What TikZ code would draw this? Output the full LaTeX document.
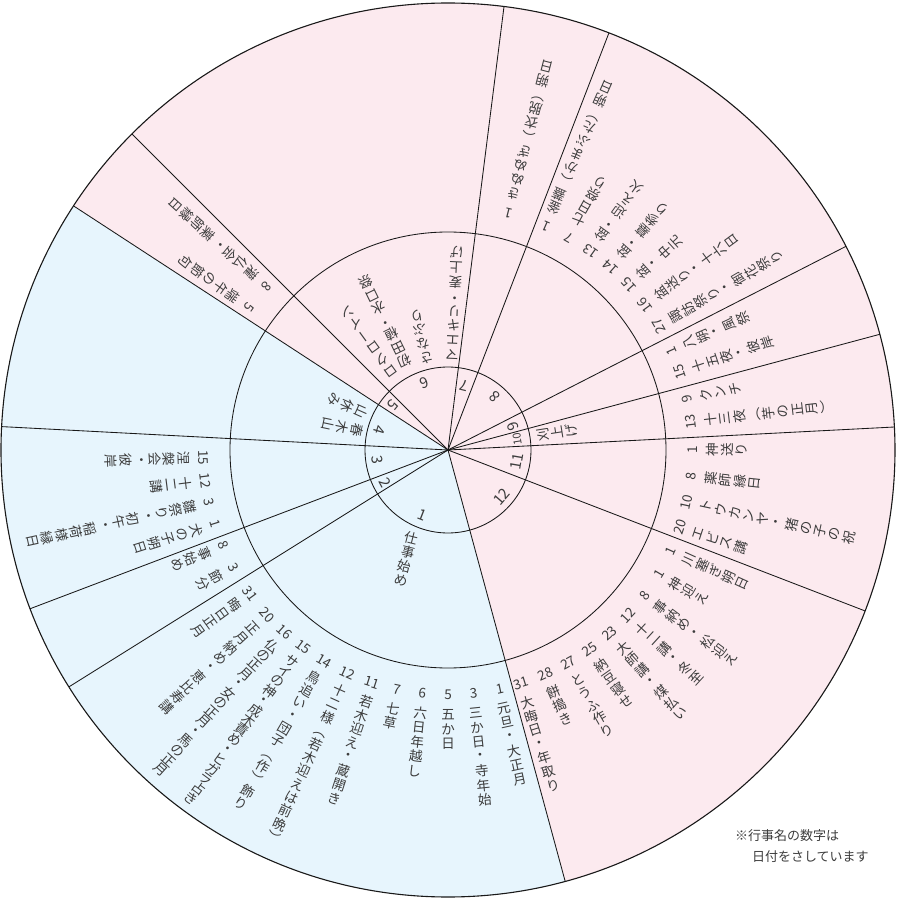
\documentclass[tikz,border=0pt]{standalone}
\usepackage{fontspec}
\usepackage{graphicx}
\newfontfamily\jp{Noto Sans CJK JP}
\definecolor{pinkbg}{RGB}{252,234,239}
\definecolor{bluebg}{RGB}{231,245,253}
\definecolor{ink}{RGB}{60,60,60}
\newdimen\vp \vp=14.6pt
\newdimen\vw \vw=16pt
\newcounter{nc}
\makeatletter
\def\vt@end{\vt@end}
\def\vt@endmark{\vt@end}
\def\vt@box#1#2{\hbox to \vw{\hss\vbox to #1{\vss\hbox{#2}\vss}\hss}}
\def\vt@item#1{\ifcat\noexpand#1\relax #1\else\vt@box{\vp}{#1}\fi}
\def\vt@loop#1{\def\vt@arg{#1}\ifx\vt@arg\vt@endmark\else\vt@item{#1}\expandafter\vt@loop\fi}
\def\lp{\vt@box{\vp}{\rotatebox[origin=c]{-90}{（}}}
\def\rp{\vt@box{\vp}{\rotatebox[origin=c]{-90}{）}}}
\def\vbar{\vt@box{\vp}{\rotatebox[origin=c]{-90}{ー}}}
\newcommand\vtext[2]{\vbox{\offinterlineskip
  \if\relax\detokenize{#1}\relax\else\hbox to \vw{\hss\vbox to 13pt{\vss\hbox{#1}\vss}\hss}\kern6pt\fi
  \vt@loop#2\vt@end}}
\makeatother
% outer column: [pitch]{angle}{number}{text}
\newcommand\oc[4][14.6pt]{\stepcounter{nc}\node[tx,rotate={#2+90},anchor=north] (o\arabic{nc}) at (#2:238) {\vp=#1\relax\vtext{#3}{#4}};}
% middle column: {angle}{radius}{text}
\newcommand\mc[3]{\stepcounter{nc}\node[tx,rotate={#1+90},anchor=north] (m\arabic{nc}) at (#1:#2) {\vtext{}{#3}};}
\begin{document}
\begin{tikzpicture}[x=1pt,y=1pt,
  tx/.style={inner sep=0pt,outer sep=0pt,font=\jp\fontsize{13.5pt}{13.5pt}\selectfont,text=ink},
  ln/.style={line width=0.85pt,draw=black!90}]
\useasboundingbox (-448,-449) rectangle (449,450);
\coordinate (c) at (0,0);
\fill[pinkbg] (c) -- (-74.8:447) arc[start angle=-74.8,end angle=146.9,radius=447] -- cycle;
\fill[bluebg] (c) -- (146.9:447) arc[start angle=146.9,end angle=285.2,radius=447] -- cycle;
\foreach \a in {-74.8,-21.1,2.95,15,27.1,68.9,82.8,135,146.9,177,200.8,212}
  \draw[ln] (c) -- (\a:447);
\draw[ln] (c) circle[radius=83];
\draw[ln] (c) circle[radius=218];
\draw[line width=1.1pt,draw=black!90] (c) circle[radius=447];
% inner month numbers
\foreach \n/\a/\r in {1/248.8/70,2/207.6/71,3/188/71,4/163.6/71,5/140.7/71,6/109.7/71,7/76/66,8/48.4/71,9/20/69,11/-9.7/70,12/-41/71}
  \node[tx,font=\jp\fontsize{15pt}{15pt}\selectfont,rotate={\a+90}] (mon\n) at (\a:\r) {\n};
\node[tx,font=\jp\fontsize{11pt}{11pt}\selectfont,rotate=99] (mon10) at (9:70) {10};
% middle ring
\node[tx,rotate=-14,anchor=north] (job) at (-34.5,-81) {\vtext{}{仕事始め}};
\mc{168}{86}{春木山}
\mc{156}{88}{山休み}
\mc{126}{90}{ロクロ\vbar イン}
\mc{116}{92}{初田植・水口祭}
\mc{103}{87}{さなぶり}
\mc{87.5}{88}{マエキリ・麦上げ}
\mc{9}{89}{刈上げ}
% January
\oc{-77.7}{1}{元旦・大正月}
\oc{-84}{3}{三か日・寺年始}
\oc{-90}{5}{五か日}
\oc{-96}{6}{六日年越し}
\oc{-102}{7}{七草}
\oc{-108}{11}{若木迎え・蔵開き}
\oc{-114.2}{12}{十二様\lp 若木迎えは前晩\rp}
\oc{-120.4}{14}{鳥追い・団子\lp 作\rp 飾り}
\oc[12.1pt]{-126.4}{15}{サイの神・成木責め・ヒガラ占き}
\oc[12.8pt]{-132}{16}{仏の正月・女の正月・馬の正月}
\oc{-137.6}{20}{正月納め・恵比寿講}
\oc{-144}{31}{晦日正月}
% February
\oc{203}{8}{事始め}
\oc{208.8}{3}{節分}
% March
\oc{197.6}{1}{犬の子朔日}
\oc{192.4}{3}{雛祭り・初午・稲荷様縁日}
\oc{187.2}{12}{十二講}
\oc{181.8}{15}{涅槃会・彼岸}
% May
\oc{138}{8}{灌仏会・薬師縁日}
\oc{144.4}{5}{端午の節句}
% July
\oc{75.6}{1}{きぬぬぎ\lp 衣脱\rp 朔日}
% August
\oc{66.4}{1}{釜蓋\lp かまぶた\rp 朔日}
\oc{60.4}{7}{七日祭り}
\oc{54.4}{13}{盆・迎え火}
\oc{48.4}{14}{盆・墓参り}
\oc{42.4}{15}{盆・中元}
\oc{36.4}{16}{盆送り・十六日}
\oc{30.4}{27}{諏訪祭り・御花祭り}
% September
\oc{24}{1}{八朔・風祭}
\oc{18.6}{15}{十五夜・彼岸}
% October
\oc{12}{9}{クンチ}
\oc{6.6}{13}{十三夜\lp 芋の正月\rp}
% November
\oc{0}{1}{神送り}
\oc{-6.2}{8}{薬師縁日}
\oc{-12.3}{10}{トウカンヤ・猪の子の祝}
\oc{-18.4}{20}{エビス講}
% December
\oc{-24.4}{1}{川塞ぎ朔日}
\oc{-30.4}{1}{神迎え}
\oc{-36.5}{8}{事納め・松迎え}
\oc{-42.6}{12}{十二講・冬至}
\oc{-48.6}{23}{大師講・煤払い}
\oc{-54.6}{25}{納豆寝せ}
\oc{-60.5}{27}{とうふ作り}
\oc{-66.4}{28}{餅搗き}
\oc{-72.6}{31}{大晦日・年取り}
% note
\node[tx,anchor=west,font=\jp\fontsize{13pt}{13pt}\selectfont] (note1) at (287,-386) {※行事名の数字は};
\node[tx,anchor=west,font=\jp\fontsize{13pt}{13pt}\selectfont] (note2) at (304,-407) {日付をさしています};
\end{tikzpicture}
\end{document}
